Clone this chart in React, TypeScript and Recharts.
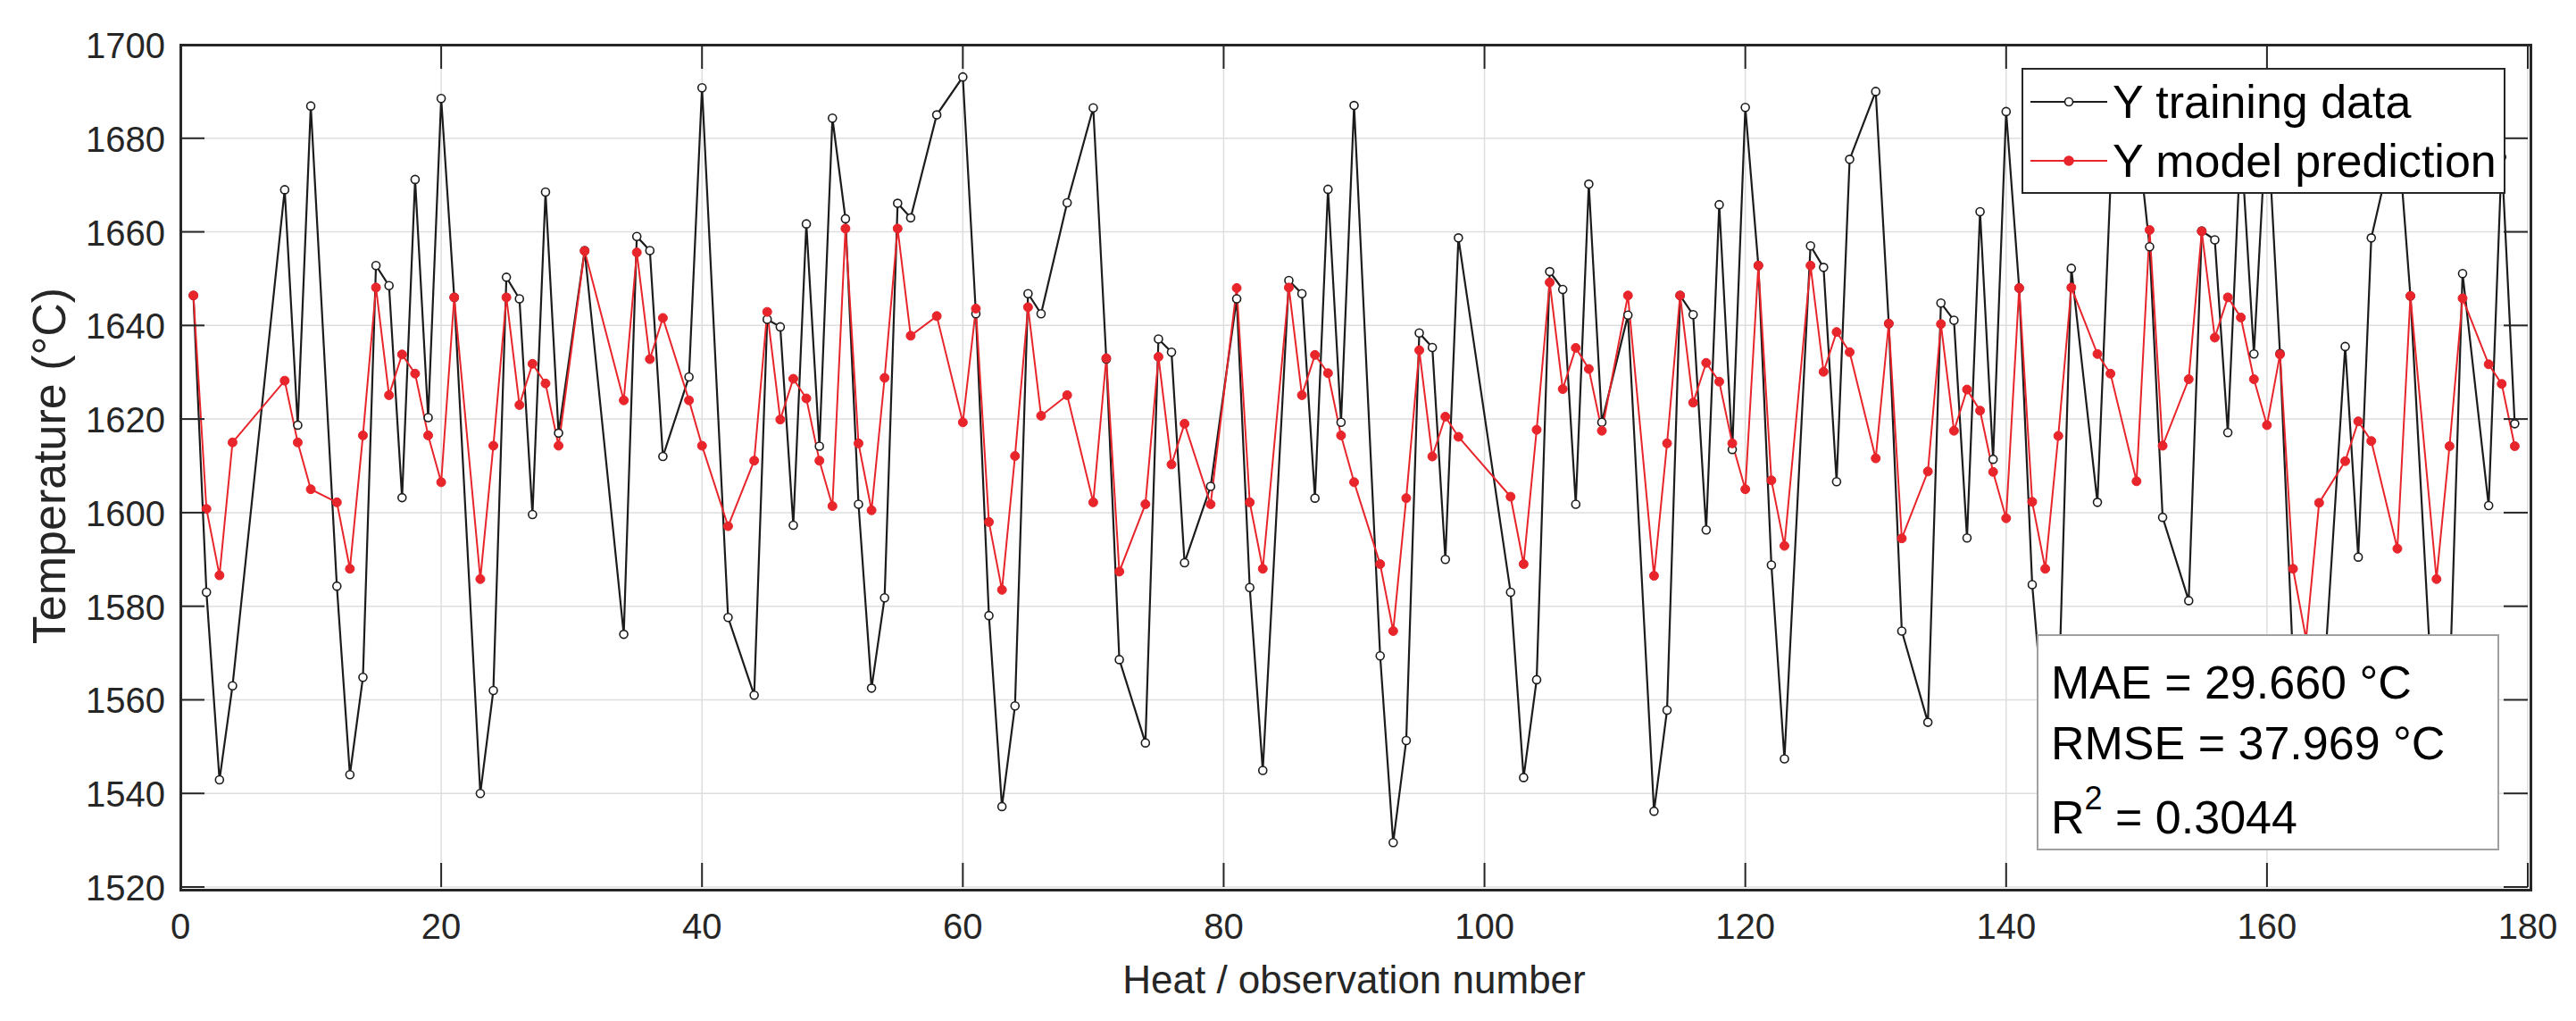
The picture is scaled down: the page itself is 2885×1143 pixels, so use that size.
import { LineChart, Line, XAxis, YAxis, CartesianGrid } from "recharts";

const FONT = '"Liberation Sans", Arial, Helvetica, sans-serif';
const W = 2885;
const H = 1143;
const LEFT = 202;
const RIGHT = 2831;
const TOP = 50;
const BOTTOM = 993;
const TICK_LEN = 27;
const AXIS = "#262626";
const GRID = "#dedede";
const BLACK = "#1c1c1c";
const RED = "#e8252b";

// heat / observation numbers (gaps are missing heats)
const HEATS = [
  1, 2, 3, 4, 8, 9, 10, 12, 13, 14, 15, 16, 17, 18, 19, 20, 21, 23, 24, 25, 26, 27, 28, 29,
  31, 34, 35, 36, 37, 39, 40, 42, 44, 45, 46, 47, 48, 49, 50, 51, 52, 53, 54, 55, 56, 58,
  60, 61, 62, 63, 64, 65, 66, 68, 70, 71, 72, 74, 75, 76, 77, 79, 81, 82, 83, 85, 86, 87, 88, 89, 90,
  92, 93, 94, 95, 96, 97, 98, 102, 103, 104, 105, 106, 107, 108, 109, 111, 113, 114, 115, 116, 117,
  118, 119, 120, 121, 122, 123,
  125, 126, 127, 128, 130, 131, 132, 134, 135, 136, 137, 138, 139, 140, 141, 142, 143, 144, 145,
  147, 148, 150, 151, 152,
  154, 155, 156, 157, 158, 159, 160, 161, 162, 163, 164, 166, 167, 168, 170, 171, 173, 174, 175,
  177, 178, 179,
];

const Y_TRAINING = [
  1646.4, 1583, 1542.9, 1563, 1669, 1618.7, 1686.9, 1584.3, 1544, 1564.8, 1652.8, 1648.5, 1603.2,
  1671.2, 1620.3, 1688.5, 1646, 1540, 1562, 1650.3, 1645.7, 1599.6, 1668.5, 1617,
  1656, 1574, 1659, 1656, 1612, 1629, 1690.8, 1577.6, 1561, 1641.3, 1639.7, 1597.3, 1661.7, 1614.2,
  1684.3, 1662.8, 1601.8, 1562.5, 1581.8, 1666.1, 1663, 1685,
  1693.1, 1642.5, 1578, 1537.2, 1558.7, 1646.8, 1642.5, 1666.2, 1686.5, 1632.8, 1568.6, 1550.8,
  1637.1, 1634.3, 1589.3, 1605.6, 1645.7, 1584, 1544.9, 1649.6, 1646.8, 1603.1, 1669.1, 1619.3, 1687,
  1569.4, 1529.5, 1551.3, 1638.4, 1635.3, 1590, 1658.7, 1583, 1543.4, 1564.3, 1651.5, 1647.7, 1601.8,
  1670.2, 1619.3, 1642.2, 1536.2, 1557.8, 1646.4, 1642.3, 1596.3, 1665.8, 1613.5, 1686.6, 1652.8,
  1588.8, 1547.4,
  1657, 1652.4, 1606.6, 1675.5, 1690, 1640.4, 1574.7, 1555.2, 1644.8, 1641.1, 1594.6, 1664.3, 1611.4,
  1685.7, 1648, 1584.6, 1552, 1558, 1652.2, 1602.2, 1670, 1683, 1656.8, 1599,
  1581.2, 1660.2, 1658.3, 1617.1, 1680, 1633.9, 1686, 1634, 1568, 1545, 1548, 1635.5, 1590.5, 1658.7,
  1683, 1646.3, 1544, 1562, 1651.1, 1601.5, 1676, 1619,
];

const Y_PREDICTION = [
  1646.4, 1600.8, 1586.6, 1615, 1628.2, 1615, 1605, 1602.2, 1588, 1616.5, 1648.1, 1625.1, 1633.8,
  1629.7, 1616.5, 1606.5, 1646, 1585.8, 1614.3, 1646, 1623, 1631.8, 1627.6, 1614.3,
  1655.9, 1624, 1655.6, 1632.8, 1641.6, 1624, 1614.3, 1597.1, 1611.1, 1642.9, 1619.9, 1628.6, 1624.4,
  1611.1, 1601.4, 1660.7, 1614.8, 1600.5, 1628.8, 1660.7, 1637.8, 1642,
  1619.3, 1643.6, 1598, 1583.5, 1612.1, 1643.9, 1620.7, 1625.1, 1602.2, 1633, 1587.4, 1601.8, 1633.3,
  1610.3, 1619, 1601.8, 1648, 1602.2, 1588, 1648.1, 1625.1, 1633.7, 1629.8, 1616.5, 1606.5,
  1589, 1574.7, 1603.1, 1634.7, 1612, 1620.5, 1616.2, 1603.4, 1589, 1617.7, 1649.2, 1626.4, 1635.2,
  1630.7, 1617.5, 1646.4, 1586.5, 1614.8, 1646.4, 1623.5, 1632, 1628, 1614.8, 1605, 1652.8, 1606.9,
  1592.9,
  1652.8, 1630.1, 1638.6, 1634.3, 1611.6, 1640.4, 1594.5, 1608.8, 1640.3, 1617.5, 1626.3, 1621.8,
  1608.7, 1598.8, 1648, 1602.3, 1588, 1616.4, 1648.1, 1633.9, 1629.7, 1606.7, 1660.4, 1614.3,
  1628.5, 1660.1, 1637.4, 1646, 1641.7, 1628.5, 1618.7, 1633.8, 1588, 1573, 1602.1, 1611, 1619.5,
  1615.3, 1592.3, 1646.3, 1585.8, 1614.2, 1645.8, 1631.7, 1627.5, 1614.2,
];

const X_TICKS = [0, 20, 40, 60, 80, 100, 120, 140, 160, 180];
const Y_TICKS = [1520, 1540, 1560, 1580, 1600, 1620, 1640, 1660, 1680, 1700];

const data = HEATS.map((heat, i) => ({
  heat,
  training: Y_TRAINING[i],
  prediction: Y_PREDICTION[i],
}));

function XTick({ x, y, payload }: any) {
  return (
    <g>
      <line x1={x} y1={y} x2={x} y2={y - TICK_LEN} stroke={AXIS} strokeWidth={2} />
      <line x1={x} y1={TOP} x2={x} y2={TOP + TICK_LEN} stroke={AXIS} strokeWidth={2} />
      <text x={x} y={y + 58} textAnchor="middle" fontSize={40} fill="#262626" fontFamily={FONT}>
        {payload.value}
      </text>
    </g>
  );
}

function YTick({ x, y, payload }: any) {
  return (
    <g>
      <line x1={x} y1={y} x2={x + TICK_LEN} y2={y} stroke={AXIS} strokeWidth={2} />
      <line x1={RIGHT - TICK_LEN} y1={y} x2={RIGHT} y2={y} stroke={AXIS} strokeWidth={2} />
      <text x={x - 17} y={y + 15} textAnchor="end" fontSize={40} fill="#262626" fontFamily={FONT}>
        {payload.value}
      </text>
    </g>
  );
}

function LegendSample({ color, open }: { color: string; open: boolean }) {
  return (
    <svg width={86} height={20} style={{ marginLeft: 8, marginRight: 6 }}>
      <line x1={0} y1={10} x2={86} y2={10} stroke={color} strokeWidth={2} />
      <circle
        cx={43}
        cy={10}
        r={open ? 4.5 : 5}
        fill={open ? "#fff" : color}
        stroke={color}
        strokeWidth={1.6}
      />
    </svg>
  );
}

export default function App() {
  return (
    <div style={{ position: "relative", width: W, height: H, background: "#fff", fontFamily: FONT }}>
      <style>{`body{margin:0;background:#fff}`}</style>
      <LineChart
        width={W}
        height={H}
        data={data}
        margin={{ top: TOP, right: W - RIGHT, left: 0, bottom: 0 }}
      >
        <CartesianGrid stroke={GRID} strokeWidth={1.5} />
        <XAxis
          dataKey="heat"
          type="number"
          domain={[0, 180]}
          ticks={X_TICKS}
          height={H - BOTTOM}
          axisLine={false}
          tickLine={false}
          tickSize={0}
          tickMargin={0}
          tick={XTick}
          interval={0}
          label={() => (
            <text
              x={(LEFT + RIGHT) / 2}
              y={1112}
              textAnchor="middle"
              fontSize={44}
              fill="#262626"
              fontFamily={FONT}
            >
              Heat / observation number
            </text>
          )}
        />
        <YAxis
          type="number"
          domain={[1520, 1700]}
          ticks={Y_TICKS}
          width={LEFT}
          axisLine={false}
          tickLine={false}
          tickSize={0}
          tickMargin={0}
          tick={YTick}
          interval={0}
          label={() => (
            <text
              x={73}
              y={(TOP + BOTTOM) / 2}
              transform={`rotate(-90 73 ${(TOP + BOTTOM) / 2})`}
              textAnchor="middle"
              fontSize={52}
              fill="#262626"
              fontFamily={FONT}
            >
              Temperature (°C)
            </text>
          )}
        />
        <Line
          type="linear"
          dataKey="training"
          name="Y training data"
          stroke={BLACK}
          strokeWidth={2.2}
          dot={{ r: 4.5, fill: "#fff", stroke: BLACK, strokeWidth: 1.6 }}
          isAnimationActive={false}
        />
        <Line
          type="linear"
          dataKey="prediction"
          name="Y model prediction"
          stroke={RED}
          strokeWidth={2}
          dot={{ r: 5, fill: RED, stroke: RED, strokeWidth: 1 }}
          isAnimationActive={false}
        />
      </LineChart>

      {/* axes box */}
      <div
        style={{
          position: "absolute",
          left: LEFT - 1.5,
          top: TOP - 1.5,
          width: RIGHT - LEFT,
          height: BOTTOM - TOP,
          border: `3px solid ${AXIS}`,
          pointerEvents: "none",
        }}
      />

      {/* legend */}
      <div
        style={{
          position: "absolute",
          left: 2264,
          top: 76,
          width: 542,
          height: 141,
          boxSizing: "border-box",
          border: `2.5px solid ${AXIS}`,
          background: "#fff",
          fontSize: 52,
          color: "#000",
          display: "flex",
          flexDirection: "column",
          justifyContent: "center",
        }}
      >
        <div style={{ display: "flex", alignItems: "center", height: 66 }}>
          <LegendSample color={BLACK} open />
          <span>Y training data</span>
        </div>
        <div style={{ display: "flex", alignItems: "center", height: 66 }}>
          <LegendSample color={RED} open={false} />
          <span>Y model prediction</span>
        </div>
      </div>

      {/* metrics box */}
      <div
        style={{
          position: "absolute",
          left: 2281,
          top: 710,
          width: 518,
          height: 242,
          boxSizing: "border-box",
          border: "2.5px solid #a0a0a0",
          background: "#fff",
          fontSize: 52,
          color: "#000",
          lineHeight: 1,
        }}
      >
        <div style={{ position: "absolute", left: 14, top: 26 }}>MAE = 29.660 °C</div>
        <div style={{ position: "absolute", left: 14, top: 94 }}>RMSE = 37.969 °C</div>
        <div style={{ position: "absolute", left: 14, top: 177 }}>
          R<sup style={{ fontSize: 36, verticalAlign: 0, position: "relative", top: -27 }}>2</sup> = 0.3044
        </div>
      </div>
    </div>
  );
}
